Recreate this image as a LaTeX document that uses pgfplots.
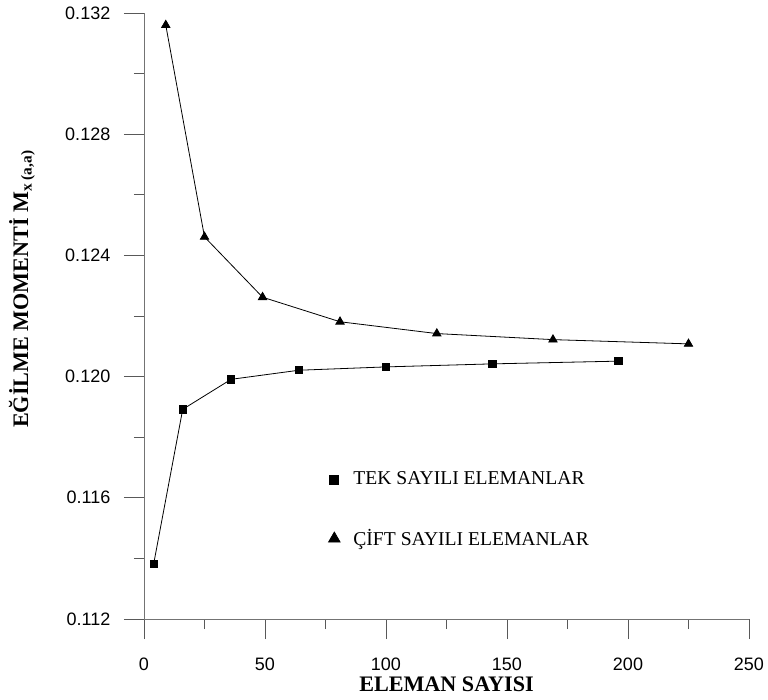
\documentclass[border=0pt]{standalone}
\usepackage{pgfplots}
\pgfplotsset{compat=1.18}
\usepackage{fontspec}
\setmainfont{Liberation Serif}
\setsansfont{Liberation Sans}
\begin{document}
\begin{tikzpicture}[x=1pt,y=1pt]
\useasboundingbox (0,0) rectangle (576,525);
\begin{axis}[
  at={(108pt,60.75pt)}, anchor=south west,
  scale only axis, width=453.75pt, height=454.5pt,
  xmin=0, xmax=250, ymin=0.112, ymax=0.132,
  axis lines*=left,
  axis line style={black!55, line width=0.6pt},
  every tick/.style={black!65, line width=0.6pt},
  xtick={0,50,100,150,200,250},
  minor xtick={25,75,125,175,225},
  ytick={0.112,0.116,0.120,0.124,0.128,0.132},
  minor ytick={0.114,0.118,0.122,0.126,0.130},
  tick align=outside, major tick length=15pt, minor tick length=7.5pt,
  scaled y ticks=false,
  yticklabel style={/pgf/number format/fixed, /pgf/number format/fixed zerofill, /pgf/number format/precision=3, xshift=-6.75pt},
  xticklabel style={yshift=-10.5pt},
  ticklabel style={font=\sffamily\fontsize{13.5}{15}\selectfont},
  /pgf/number format/assume math mode=true,
  clip=false,
  xlabel={ELEMAN SAYISI},
  ylabel={EĞİLME MOMENTİ M\textsubscript{\fontsize{11.5}{12}\selectfont x (a,a)}},
  label style={font=\bfseries\fontsize{16.6}{18}\selectfont},
  xlabel style={at={(rel axis cs:0.5,-0.1073)}, anchor=center},
  ylabel style={at={(rel axis cs:-0.2017,0.5446)}, anchor=center},
  legend image code/.code={\draw[#1] plot[only marks] coordinates {(0pt,0pt)}; \path (12pt,0pt);},
  legend style={draw=none, fill=none, at={(rel axis cs:0.298,0.18)}, anchor=west,
    font=\fontsize{14.7}{17}\selectfont, row sep=28pt},
  legend cell align=left,
]
\addplot[black, line width=0.6pt, mark=square*, mark size=2.7pt,
  legend image post style={mark size=3.4pt}] coordinates {
  (4,0.11382) (16,0.11892) (36,0.11991) (64,0.12021) (100,0.12032) (144,0.12042) (196,0.12051)};
\addlegendentry{TEK SAYILI ELEMANLAR}
\addplot[black, line width=0.6pt, mark=triangle*, mark size=3.6pt,
  legend image post style={mark size=5pt}] coordinates {
  (9,0.1316) (25,0.12461) (49,0.12262) (81,0.12181) (121,0.12142) (169,0.12122) (225,0.12108)};
\addlegendentry{ÇİFT SAYILI ELEMANLAR}
\end{axis}
\end{tikzpicture}
\end{document}
